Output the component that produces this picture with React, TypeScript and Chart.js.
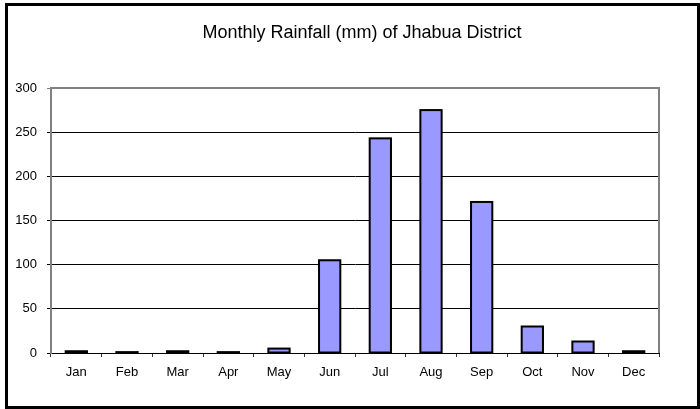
import React, { useEffect, useRef } from "react";
import { Chart, registerables } from "chart.js";

Chart.register(...registerables);

const months = ["Jan", "Feb", "Mar", "Apr", "May", "Jun", "Jul", "Aug", "Sep", "Oct", "Nov", "Dec"];
const rainfall = [2, 1, 2, 1, 5, 105, 243, 275, 171, 30, 13, 2];
const chartTitle = "Monthly Rainfall (mm) of Jhabua District";
const yMin = 0;
const yMax = 300;
const yStep = 50;

const barOutlinePlugin = {
  id: "barOutline",
  afterDatasetsDraw(chart: any) {
    const { ctx } = chart;
    const meta = chart.getDatasetMeta(0);
    ctx.save();
    ctx.strokeStyle = "#000";
    ctx.lineWidth = 2;
    meta.data.forEach((bar: any) => {
      const p = bar.getProps(["x", "y", "base", "width"], true);
      const left = p.x - p.width / 2;
      ctx.strokeRect(left, p.y, p.width, p.base - p.y);
    });
    ctx.restore();
  },
};

const framePlugin = {
  id: "frame",
  afterDraw(chart: any) {
    const { ctx, chartArea } = chart;
    ctx.save();
    ctx.strokeStyle = "#808080";
    ctx.lineWidth = 2;
    ctx.beginPath();
    ctx.moveTo(chartArea.left, chartArea.top);
    ctx.lineTo(chartArea.right, chartArea.top);
    ctx.lineTo(chartArea.right, chartArea.bottom);
    ctx.stroke();
    ctx.fillStyle = "#000";
    ctx.font = "18px 'Liberation Sans', Arial, sans-serif";
    ctx.textAlign = "center";
    ctx.textBaseline = "middle";
    ctx.fillText(chartTitle, 362, 33);
    ctx.strokeStyle = "#000";
    ctx.lineWidth = 3;
    ctx.strokeRect(6.5, 4.5, 692, 403);
    ctx.restore();
  },
};

export default function App() {
  const ref = useRef<HTMLCanvasElement>(null);
  useEffect(() => {
    document.body.style.margin = "0";
    const chart = new Chart(ref.current!, {
      type: "bar",
      data: {
        labels: months,
        datasets: [
          {
            data: rainfall,
            backgroundColor: "#9999FF",
            borderWidth: 0,
            barPercentage: 0.42,
            categoryPercentage: 1,
          },
        ],
      },
      options: {
        animation: false,
        responsive: false,
        maintainAspectRatio: false,
        layout: { padding: { top: 88, right: 41, left: 0, bottom: 0 } },
        plugins: { legend: { display: false }, title: { display: false }, tooltip: { enabled: false } },
        scales: {
          x: {
            offset: true,
            grid: {
              offset: true,
              drawOnChartArea: false,
              drawTicks: true,
              tickLength: 4,
              color: "#333",
            },
            border: { color: "#000", width: 1 },
            ticks: {
              color: "#000",
              font: { family: "'Liberation Sans', Arial, sans-serif", size: 13 },
              padding: 8,
              maxRotation: 0,
            },
            afterFit(scale: any) {
              scale.height = 56;
            },
          },
          y: {
            min: yMin,
            max: yMax,
            ticks: {
              stepSize: yStep,
              color: "#000",
              font: { family: "'Liberation Sans', Arial, sans-serif", size: 13 },
              padding: 10,
            },
            grid: {
              color: (c: any) => (c.tick && c.tick.value === yMax ? "#808080" : "#000"),
              lineWidth: 1,
              tickLength: 4,
            },
            border: { color: "#808080", width: 2 },
            afterFit(scale: any) {
              scale.width = 51;
            },
          },
        },
      },
      plugins: [barOutlinePlugin, framePlugin],
    });
    return () => chart.destroy();
  }, []);
  return (
    <div style={{ position: "fixed", left: 0, top: 0, width: 700, height: 409, background: "#fff" }}>
      <canvas ref={ref} width={700} height={409} style={{ width: 700, height: 409 }} />
    </div>
  );
}
